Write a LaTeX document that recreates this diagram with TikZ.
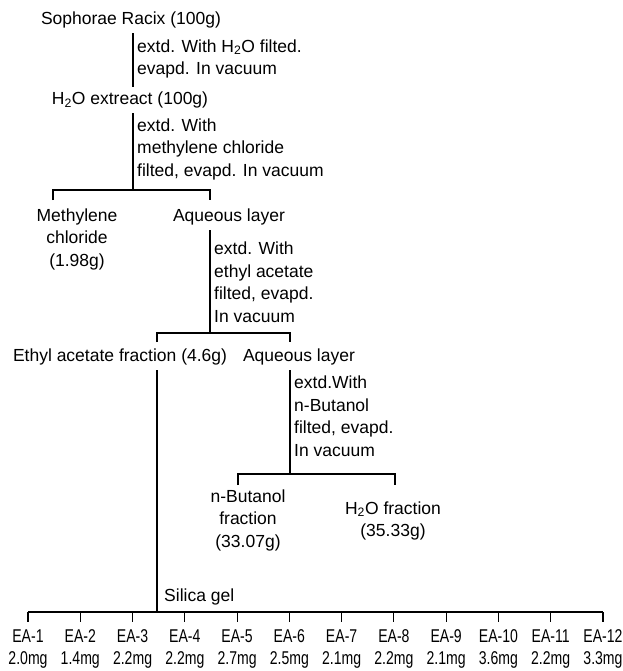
\documentclass[tikz,border=0pt]{standalone}
\usepackage{fontspec}
\setmainfont{Liberation Sans}
\newfontfamily\narrowfont[FakeStretch=0.76]{Liberation Sans}
\usetikzlibrary{calc}
\newcommand{\hto}{H\textsubscript{2}O}
\tikzset{
  label text/.style={font=\fontsize{17.5}{22.5}\selectfont, inner xsep=0pt, inner ysep=5pt, align=center},
  step text/.style={font=\fontsize{17.5}{22.5}\selectfont, inner xsep=4pt, inner ysep=0pt, align=left, anchor=west},
  fraction text/.style={font=\narrowfont\fontsize{18.5}{22}\selectfont, inner sep=0pt, align=center},
  tree line/.style={line width=1.1pt}
}

\begin{document}
\begin{tikzpicture}[x=1pt,y=-1pt]
\useasboundingbox (0,0) rectangle (622,671);

% top of the scheme
\node[label text] (racix) at (131,20) {Sophorae Racix (100g)};
\node[step text] (s1) at (133,59) {extd. With \hto{} filted.\\evapd. In vacuum};
\node[label text] (extr) at (130,100) {\hto{} extreact (100g)};
\node[step text] (s2) at (133,149) {extd. With\\methylene chloride\\filted, evapd. In vacuum};

\draw[tree line] (racix.south -| s1.west) -- (extr.north -| s1.west);

\coordinate (j1) at (133,190);
\coordinate (t1a) at (53,190);
\coordinate (t1b) at (210,190);
\draw[tree line] (extr.south -| s2.west) -- (j1);
\draw[tree line] ([yshift=-10pt]t1a) -- (t1a) -- (t1b) -- ([yshift=-10pt]t1b);

% methylene chloride split
\node[label text] (mecl) at (77,239) {Methylene\\chloride\\(1.98g)};
\node[label text] (aq1) at (229,217) {Aqueous layer};
\node[step text] (s3) at (210,282) {extd. With\\ethyl acetate\\filted, evapd.\\In vacuum};

\coordinate (j2) at (210,333);
\coordinate (t2a) at (157,333);
\coordinate (t2b) at (290,333);
\draw[tree line] (aq1.south -| s3.west) -- (j2);
\draw[tree line] ([yshift=-9pt]t2a) -- (t2a) -- (t2b) -- ([yshift=-9pt]t2b);

% ethyl acetate split
\node[label text] (eafr) at (120,357) {Ethyl acetate fraction (4.6g)};
\node[label text] (aq2) at (299,357) {Aqueous layer};
\node[step text] (s4) at (290,416) {extd.With\\n-Butanol\\filted, evapd.\\In vacuum};

\coordinate (j3) at (290,474);
\coordinate (t3a) at (238,474);
\coordinate (t3b) at (395,474);
\draw[tree line] (aq2.south -| s4.west) -- (j3);
\draw[tree line] ([yshift=-11pt]t3a) -- (t3a) -- (t3b) -- ([yshift=-11pt]t3b);

% n-butanol split
\node[label text] (buoh) at (248,520) {n-Butanol\\fraction\\(33.07g)};
\node[label text] (hfr) at (393,521) {\hto{} fraction\\(35.33g)};

% silica gel column
\coordinate (j4) at (157,612);
\node[step text] (silica) at (160,597) {Silica gel};
\draw[tree line] (eafr.south -| t2a) -- (j4);

\foreach \i/\m in {1/2.0,2/1.4,3/2.2,4/2.2,5/2.7,6/2.5,7/2.1,8/2.2,9/2.1,10/3.6,11/2.2,12/3.3}
  \node[fraction text] (ea\i) at ({28+52.27*(\i-1)},649) {EA-\i\\\m mg};

\draw[tree line] (ea1.north |- j4) -- (ea12.north |- j4);
\foreach \i in {1,...,12}
  \draw[tree line] (ea\i.north |- j4) -- ++(0,10);

\end{tikzpicture}
\end{document}
